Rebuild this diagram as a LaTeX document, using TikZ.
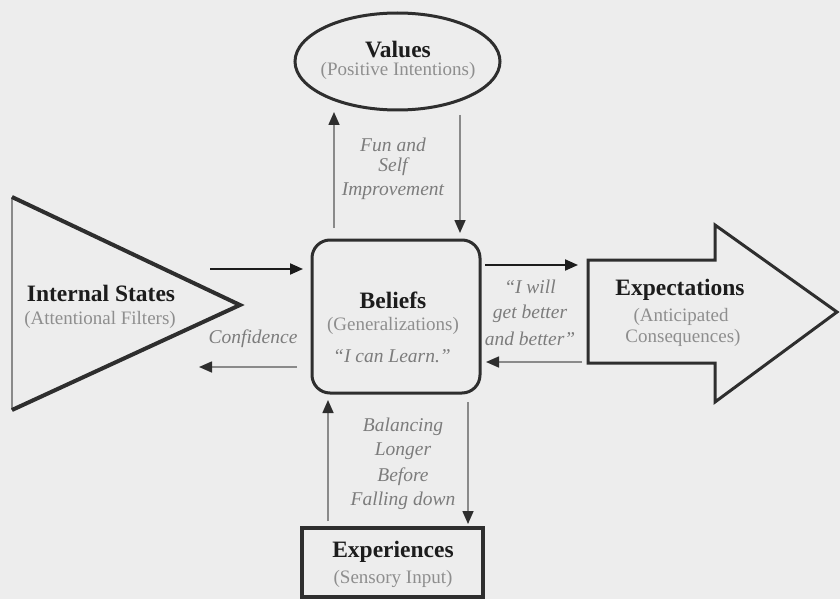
\documentclass[tikz,border=0pt]{standalone}
\usepackage{fontspec}
\setmainfont{Liberation Serif}
\usetikzlibrary{arrows.meta,shapes.geometric}
\definecolor{bg}{HTML}{EDEDED}
\definecolor{ink}{HTML}{1C1C1C}
\definecolor{sub}{HTML}{8E8E8E}
\definecolor{lbl}{HTML}{7C7C7C}
\definecolor{edge}{HTML}{2E2E2E}
\definecolor{thin}{HTML}{8A8A8A}
\begin{document}
\begin{tikzpicture}[x=1pt,y=-1pt,
  title/.style={font=\bfseries\fontsize{23.5}{26}\selectfont, text=ink, inner sep=0pt, anchor=base},
  subt/.style={font=\fontsize{19}{22}\selectfont, text=sub, inner sep=0pt, anchor=base},
  lab/.style={font=\itshape\fontsize{19.5}{22}\selectfont, text=lbl, inner sep=0pt, anchor=base},
  fwd/.style={draw=ink, line width=2pt, -{Triangle[length=13pt,width=11pt]}},
  back/.style={draw=thin, line width=1.6pt, -{Triangle[length=13pt,width=11pt,color=edge]}},
  shapeline/.style={draw=edge, line width=3pt, line join=miter},
]
\fill[bg] (0,0) rectangle (840,599);
\useasboundingbox (0,0) rectangle (840,599);

% Values
\node[ellipse, shapeline, minimum width=205pt, minimum height=97pt, inner sep=0pt] (values) at (397.5,61.5) {};
\node[title] (valuesT) at (398,58) {Values};
\node[subt] (valuesS) at (398,76) {(Positive Intentions)};

% Beliefs
\node[shapeline, rounded corners=18pt, minimum width=168pt, minimum height=153pt, inner sep=0pt] (beliefs) at (396,316.5) {};
\node[title] (beliefsT) at (393,308) {Beliefs};
\node[subt] (beliefsS) at (393,330) {(Generalizations)};
\node[lab] (beliefsL) at (392,362) {“I can Learn.”};

% Internal States triangle
\coordinate (isTop) at (12,197);
\coordinate (isTip) at (240,305);
\coordinate (isBot) at (12,410);
\draw[draw=thin, line width=2pt] (isTop) -- (isBot);
\draw[draw=edge, line width=4pt, line join=miter] (isTop) -- (isTip) -- (isBot);
\node[title] (isT) at (101,301) {Internal States};
\node[subt] (isS) at (100,324) {(Attentional Filters)};

% Expectations big arrow
\draw[shapeline] (588,260) -- (715,260) -- (715,225) -- (837,312) -- (715,402) -- (715,363) -- (588,363) -- cycle;
\node[title] (expT) at (680,295) {Expectations};
\node[subt] (expS1) at (681,321) {(Anticipated};
\node[subt] (expS2) at (683,342) {Consequences)};

% Experiences
\node[draw=edge, line width=4pt, minimum width=181pt, minimum height=69pt, inner sep=0pt] (exper) at (392.5,562.5) {};
\node[title] (experT) at (393,557) {Experiences};
\node[subt] (experS) at (393,583) {(Sensory Input)};

% labels
\node[lab] (fun1) at (393,151) {Fun and};
\node[lab] (fun2) at (393,171) {Self};
\node[lab] (fun3) at (393,195) {Improvement};
\node[lab] (conf) at (253,343) {Confidence};
\node[lab] (will1) at (530,293) {“I will};
\node[lab] (will2) at (530,318) {get better};
\node[lab] (will3) at (530,345) {and better”};
\node[lab] (bal1) at (403,431) {Balancing};
\node[lab] (bal2) at (403,455) {Longer};
\node[lab] (bal3) at (403,481) {Before};
\node[lab] (bal4) at (403,505) {Falling down};

% arrow end points
\coordinate (a1s) at (210,269); \coordinate (a1e) at (303,269);
\coordinate (a2s) at (297,367); \coordinate (a2e) at (199,367);
\coordinate (a3s) at (485,265); \coordinate (a3e) at (578,265);
\coordinate (a4s) at (582,362); \coordinate (a4e) at (486,362);
\coordinate (a5s) at (334,228); \coordinate (a5e) at (334,112);
\coordinate (a6s) at (460,115); \coordinate (a6e) at (460,233);
\coordinate (a7s) at (328,521); \coordinate (a7e) at (328,400);
\coordinate (a8s) at (468,402); \coordinate (a8e) at (468,524);

\draw[fwd] (a1s) -- (a1e);
\draw[back] (a2s) -- (a2e);
\draw[fwd] (a3s) -- (a3e);
\draw[back] (a4s) -- (a4e);
\draw[back] (a5s) -- (a5e);
\draw[back] (a6s) -- (a6e);
\draw[back] (a7s) -- (a7e);
\draw[back] (a8s) -- (a8e);
\end{tikzpicture}
\end{document}
